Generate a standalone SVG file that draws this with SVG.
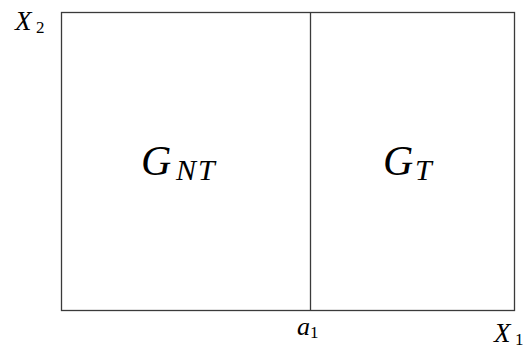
<svg xmlns="http://www.w3.org/2000/svg" width="529" height="352" viewBox="0 0 529 352">
<rect width="529" height="352" fill="#fff"/>
<g id="region" fill="none" stroke="#3a3a3a" stroke-width="1.3">
<rect x="61.5" y="12.5" width="453" height="298"/>
</g>
<g id="connectors" fill="none" stroke="#3a3a3a" stroke-width="1.3">
<line x1="310.5" y1="12.5" x2="310.5" y2="310.5"/>
</g>
<g id="G_NT"><text x="141" y="175" font-family="Liberation Serif, serif" font-style="italic" font-size="42">G</text><text x="176" y="180" font-family="Liberation Serif, serif" font-style="italic" font-size="30" letter-spacing="2">NT</text></g>
<g id="G_T"><text x="383" y="175" font-family="Liberation Serif, serif" font-style="italic" font-size="42">G</text><text x="415" y="180" font-family="Liberation Serif, serif" font-style="italic" font-size="30">T</text></g>
<g id="X2"><text x="15" y="30" font-family="Liberation Serif, serif" font-style="italic" font-size="27">X</text><text x="36" y="33" font-family="Liberation Serif, serif" font-size="17">2</text></g>
<g id="a1"><text x="297" y="335" font-family="Liberation Serif, serif" font-style="italic" font-size="26">a</text><text x="310" y="338" font-family="Liberation Serif, serif" font-size="17">1</text></g>
<g id="X1"><text x="494" y="342" font-family="Liberation Serif, serif" font-style="italic" font-size="27">X</text><text x="515" y="345" font-family="Liberation Serif, serif" font-size="17">1</text></g>
</svg>
